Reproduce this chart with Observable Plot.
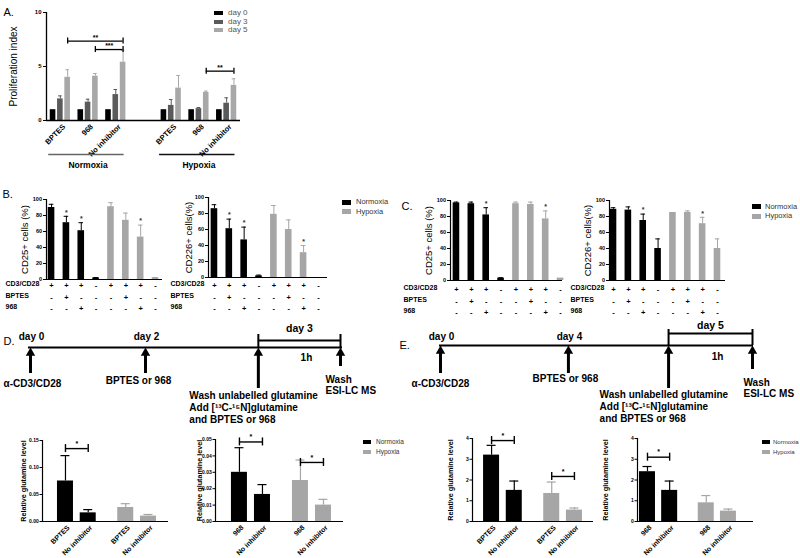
<!DOCTYPE html>
<html>
<head>
<meta charset="utf-8">
<script src="https://cdn.jsdelivr.net/npm/d3@7"></script>
<script src="https://cdn.jsdelivr.net/npm/@observablehq/plot@0.6"></script>
<style>
html,body{margin:0;padding:0;background:#fff;}
#fig{position:relative;width:800px;height:558px;overflow:hidden;background:#fff;font-family:"Liberation Sans",Arial,Helvetica,sans-serif;}
.box{position:absolute;}
.box svg{display:block;max-width:none;overflow:visible;}
</style>
</head>
<body>
<div id="fig"></div>
<script>
// ================= DATA =================
// ---- Panel A : proliferation index ----
const aConditions = ["Normoxia", "Hypoxia"];
const aTreatments = ["BPTES", "968", "No inhibitor"];
const aDays = ["day 0", "day 3", "day 5"];
// order: Normoxia BPTES, 968, No inhibitor, Hypoxia BPTES, 968, No inhibitor
const aDay0Mean = [1, 1, 1, 1, 1, 1];
const aDay3Mean = [2.0, 1.7, 2.4, 1.4, 1.1, 1.6];
const aDay5Mean = [4.0, 4.1, 5.4, 3.0, 2.6, 3.25];
const aDay0Err = [1, 1, 1, 1, 1, 1];
const aDay3Err = [2.28, 1.97, 2.87, 1.94, 1.2, 2.1];
const aDay5Err = [4.7, 4.35, 6.5, 4.17, 2.72, 3.86];
const aSigCondition = [0, 0, 1];
const aSigFrom = [0, 1, 1];
const aSigTo = [2, 2, 2];
const aSigLevel = [7.35, 6.57, 4.57];
const aSigLabel = ["**", "***", "**"];

// ---- Panels B & C : activation markers ----
const cdConditions = ["Normoxia", "Hypoxia"];
const cdRowLabels = ["CD3/CD28", "BPTES", "968"];
const cdCD3 = ["+", "+", "+", "-"];
const cdBPTES = ["-", "+", "-", "-"];
const cd968 = ["-", "-", "+", "-"];
const bCD25Normoxia = [90, 71, 61, 2];
const bCD25NormoxiaErr = [94, 79, 71, 2.5];
const bCD25Hypoxia = [91, 74, 53, 2];
const bCD25HypoxiaErr = [96, 83, 68, 2.5];
const bCD25Stars = [1, 2, 6];
const bCD226Normoxia = [86, 61, 47, 2];
const bCD226NormoxiaErr = [91, 73, 63, 3];
const bCD226Hypoxia = [79, 60, 31, 0];
const bCD226HypoxiaErr = [90, 72, 40, 0];
const bCD226Stars = [1, 2, 6];
const cCD25Normoxia = [97, 96, 82, 3];
const cCD25NormoxiaErr = [98, 98, 91, 3.5];
const cCD25Hypoxia = [96, 95, 77, 3];
const cCD25HypoxiaErr = [98, 98, 87, 3];
const cCD25Stars = [2, 6];
const cCD226Normoxia = [89, 88, 75, 40];
const cCD226NormoxiaErr = [91, 92, 83, 52];
const cCD226Hypoxia = [85, 85, 71, 40];
const cCD226HypoxiaErr = [85, 87, 79, 52];
const cCD226Stars = [2, 6];

// ---- Panels D & E : timelines ----
const tlBottom = ["α-CD3/CD28", "BPTES or 968", "Wash unlabelled glutamine\nAdd [¹³C-¹⁵N]glutamine\nand BPTES or 968", "Wash\nESI-LC MS"];
const dTimelineTop = ["day 0", "day 2", "", ""];
const dTimelineAt = [0, 0.371, 0.735, 1];
const dSpanLabels = ["day 3", "1h"];
const eTimelineTop = ["day 0", "day 4", "", ""];
const eTimelineAt = [0, 0.41, 0.731, 1];
const eSpanLabels = ["day 5", "1h"];

// ---- Panels D & E : relative glutamine level ----
const gluConditions = ["Normoxia", "Normoxia", "Hypoxia", "Hypoxia"];
const gluSlot = [0, 1, 2.65, 3.65];
const dLeftLabels = ["BPTES", "No inhibitor", "BPTES", "No inhibitor"];
const dLeftMean = [0.075, 0.016, 0.026, 0.010];
const dLeftErr = [0.122, 0.022, 0.033, 0.013];
const dLeftSig = [{from: 0, to: 1, level: 0.135, label: "*"}];
const dRightLabels = ["968", "No inhibitor", "968", "No inhibitor"];
const dRightMean = [0.030, 0.0165, 0.025, 0.010];
const dRightErr = [0.045, 0.0225, 0.0375, 0.0135];
const dRightSig = [{from: 0, to: 1, level: 0.0485, label: "*"}, {from: 2, to: 3, level: 0.036, label: "*"}];
const eLeftLabels = ["BPTES", "No inhibitor", "BPTES", "No inhibitor"];
const eLeftMean = [3.2, 1.5, 1.35, 0.55];
const eLeftErr = [3.67, 1.95, 1.9, 0.65];
const eLeftSig = [{from: 0, to: 1, level: 3.9, label: "*"}, {from: 2, to: 3, level: 2.17, label: "*"}];
const eRightLabels = ["968", "No inhibitor", "968", "No inhibitor"];
const eRightMean = [2.4, 1.5, 0.9, 0.5];
const eRightErr = [2.65, 1.95, 1.25, 0.6];
const eRightSig = [{from: 0, to: 1, level: 3.1, label: "*"}];

// ================= STYLE / HELPERS =================
const FONT = '"Liberation Sans", Arial, Helvetica, sans-serif';
const DAY_COLORS = ["#000000", "#5a5a5a", "#a8a8a8"];
const COND_COLORS = {Normoxia: "#000000", Hypoxia: "#a6a6a6"};
const fig = document.getElementById("fig");

function baseStyle(size) {
  return {fontFamily: FONT, fontSize: size, fontWeight: "bold", color: "#000", background: "transparent", overflow: "visible"};
}
function margins(box, frame) {
  return {
    marginLeft: frame.left - box.left,
    marginRight: box.left + box.width - frame.right,
    marginTop: frame.top - box.top,
    marginBottom: box.top + box.height - frame.bottom
  };
}
function place(node, box) {
  const d = document.createElement("div");
  d.className = "box";
  d.style.left = box.left + "px"; d.style.top = box.top + "px";
  d.style.width = box.width + "px"; d.style.height = box.height + "px";
  d.appendChild(node);
  fig.appendChild(d);
}
function legend(items, o) {
  items.forEach((it, i) => {
    const s = document.createElement("div");
    s.style.cssText = `position:absolute;left:${o.left}px;top:${o.top + i * o.step}px;width:${o.sw}px;height:${o.sh}px;background:${it.color}`;
    const t = document.createElement("div");
    t.textContent = it.label;
    t.style.cssText = `position:absolute;left:${o.textLeft}px;top:${o.top + i * o.step + o.sh / 2}px;transform:translateY(-50%);font-size:${o.fontSize}px;line-height:1;color:${o.color};white-space:nowrap;font-family:${FONT}`;
    fig.appendChild(s); fig.appendChild(t);
  });
}

// ================= PANEL A =================
(function panelA() {
  const box = {left: 0, top: 0, width: 252, height: 172};
  const frame = {left: 46, right: 240, top: 12, bottom: 120};
  const xDom = [-0.5, 6.5], yDom = [0, 10];
  const ux = (frame.right - frame.left) / (xDom[1] - xDom[0]);
  const uy = (frame.bottom - frame.top) / (yDom[1] - yDom[0]);
  const dayOff = 7.3 / ux, hw = 2.8 / ux, cap = 1.8 / ux;
  const slot = (c, g) => c * (aTreatments.length + 1) + g;
  const means = [aDay0Mean, aDay3Mean, aDay5Mean], errs = [aDay0Err, aDay3Err, aDay5Err];
  const rows = [], groups = [];
  aConditions.forEach((cond, c) => aTreatments.forEach((tr, g) => {
    const i = c * aTreatments.length + g;
    groups.push({tr, pos: slot(c, g)});
    aDays.forEach((day, d) => rows.push({d, pos: slot(c, g) + (d - 1) * dayOff, mean: means[d][i], err: errs[d][i], color: DAY_COLORS[d]}));
  }));
  const errRows = rows.filter(r => r.err > r.mean);
  const conds = aConditions.map((cond, c) => ({cond, x1: slot(c, 0) - 0.42, x2: slot(c, 2) + 0.3, mid: slot(c, 1), color: c ? "#111" : "#666"}));
  const sig = aSigLabel.map((label, k) => ({label, y: aSigLevel[k],
    x1: slot(aSigCondition[k], aSigFrom[k]) + dayOff, x2: slot(aSigCondition[k], aSigTo[k]) + dayOff}));
  const sigEnds = sig.flatMap(s => [{x: s.x1, y: s.y}, {x: s.x2, y: s.y}]);
  const tickH = 3 / uy;
  const chart = Plot.plot({
    width: box.width, height: box.height, ...margins(box, frame),
    x: {domain: xDom, axis: null},
    y: {domain: yDom, ticks: 2, tickSize: 3, tickPadding: 2, label: null},
    color: {type: "identity"},
    style: baseStyle("6px"),
    marks: [
      Plot.rect(rows, {x1: r => r.pos - hw, x2: r => r.pos + hw, y1: () => 0, y2: "mean", fill: "color"}),
      Plot.ruleX(errRows, {x: "pos", y1: "mean", y2: "err", stroke: "color", strokeWidth: 1}),
      Plot.ruleY(errRows, {y: "err", x1: r => r.pos - cap, x2: r => r.pos + cap, stroke: "color", strokeWidth: 1}),
      Plot.ruleX([xDom[0]], {strokeWidth: 1.3}),
      Plot.ruleY([0], {strokeWidth: 1.3}),
      Plot.ruleY(sig, {y: "y", x1: "x1", x2: "x2", strokeWidth: 1.3}),
      Plot.ruleX(sigEnds, {x: "x", y1: s => s.y - tickH, y2: s => s.y + tickH, strokeWidth: 1.3}),
      Plot.text(sig, {x: s => (s.x1 + s.x2) / 2, y: "y", text: "label", dy: -3.5, fontSize: 7}),
      Plot.text(groups, {x: g => g.pos + 0.1, y: () => 0, text: "tr", rotate: -45, textAnchor: "end", dx: 1, dy: 5, fontSize: 7.5}),
      Plot.ruleY(conds, {y: () => 0, x1: "x1", x2: "x2", dy: 34, stroke: "color", strokeWidth: 1.3}),
      Plot.text(conds, {x: "mid", y: () => 0, text: "cond", dy: 45, fontSize: 8.5}),
      Plot.text(["Proliferation index"], {text: d => d, frameAnchor: "left", textAnchor: "middle", rotate: -90, dx: -33, fontSize: 10, fontWeight: "normal"}),
      Plot.text(["A."], {text: d => d, frameAnchor: "top-left", textAnchor: "start", dx: -43, dy: -4, fontSize: 11, fontWeight: "normal"})
    ]
  });
  place(chart, box);
  legend(aDays.map((label, d) => ({label, color: DAY_COLORS[d]})),
    {left: 214, top: 11, step: 8.5, sw: 9, sh: 4, textLeft: 228, fontSize: 8, color: "#555"});
})();

// ================= PANELS B & C =================
function cdPanel(cfg) {
  const {box, frame, xDom, normMean, normErr, hypMean, hypErr, stars, yLabel, yLabelX, rowLabelX, rowDy, letter} = cfg;
  const ux = (frame.right - frame.left) / (xDom[1] - xDom[0]);
  const hw = 3.3 / ux, cap = 2.3 / ux;
  const signs = [cdCD3, cdBPTES, cd968];
  const rows = [];
  cdConditions.forEach((cond, c) => cdCD3.forEach((_, k) => {
    const pos = c * cdCD3.length + k;
    rows.push({pos, color: COND_COLORS[cond], mean: (c ? hypMean : normMean)[k], err: (c ? hypErr : normErr)[k],
      signs: signs.map(s => s[k]), star: stars.includes(pos)});
  }));
  const errRows = rows.filter(r => r.err > r.mean);
  const marks = [
    Plot.rect(rows, {x1: r => r.pos - hw, x2: r => r.pos + hw, y1: () => 0, y2: "mean", fill: "color"}),
    Plot.ruleX(errRows, {x: "pos", y1: "mean", y2: "err", stroke: "color", strokeWidth: 1}),
    Plot.ruleY(errRows, {y: "err", x1: r => r.pos - cap, x2: r => r.pos + cap, stroke: "color", strokeWidth: 1}),
    Plot.ruleX([xDom[0]], {strokeWidth: 1.2}),
    Plot.ruleY([0], {strokeWidth: 1.2}),
    Plot.text(rows.filter(r => r.star), {x: "pos", y: "err", text: () => "*", dy: -4, fontSize: 7, fill: "#333"}),
    ...cdRowLabels.flatMap((lab, r) => [
      Plot.text(rows, {x: "pos", y: () => 0, text: d => d.signs[r], dy: rowDy[r], fontSize: 7.5}),
      Plot.text([lab], {text: d => d, frameAnchor: "bottom-left", textAnchor: "start", dx: rowLabelX - frame.left, dy: rowDy[r], fontSize: 7})
    ]),
    Plot.text([yLabel], {text: d => d, frameAnchor: "left", textAnchor: "middle", rotate: -90, dx: yLabelX - frame.left, fontSize: 9.5, fontWeight: "normal"})
  ];
  if (letter) marks.push(Plot.text([letter.text], {text: d => d, frameAnchor: "top-left", textAnchor: "start",
    dx: letter.x - frame.left, dy: letter.y - frame.top, fontSize: 11, fontWeight: "normal"}));
  const chart = Plot.plot({
    width: box.width, height: box.height, ...margins(box, frame),
    x: {domain: xDom, axis: null},
    y: {domain: [0, 100], ticks: 5, tickSize: 3, tickPadding: 1.5, label: null},
    color: {type: "identity"},
    style: baseStyle("5.5px"),
    marks
  });
  place(chart, box);
}

cdPanel({box: {left: 0, top: 180, width: 170, height: 135}, frame: {left: 46, right: 162, top: 199, bottom: 279},
  xDom: [-0.34, 7.47], normMean: bCD25Normoxia, normErr: bCD25NormoxiaErr, hypMean: bCD25Hypoxia, hypErr: bCD25HypoxiaErr,
  stars: bCD25Stars, yLabel: "CD25+ cells (%)", yLabelX: 24, rowLabelX: 5, rowDy: [6, 18, 29], letter: {text: "B.", x: 2, y: 190}});
cdPanel({box: {left: 168, top: 180, width: 170, height: 135}, frame: {left: 208, right: 327, top: 197, bottom: 277},
  xDom: [-0.40, 7.61], normMean: bCD226Normoxia, normErr: bCD226NormoxiaErr, hypMean: bCD226Hypoxia, hypErr: bCD226HypoxiaErr,
  stars: bCD226Stars, yLabel: "CD226+ cells(%)", yLabelX: 188, rowLabelX: 170, rowDy: [8, 20, 31]});
cdPanel({box: {left: 400, top: 180, width: 170, height: 140}, frame: {left: 450, right: 562, top: 200, bottom: 280},
  xDom: [-0.40, 7.13], normMean: cCD25Normoxia, normErr: cCD25NormoxiaErr, hypMean: cCD25Hypoxia, hypErr: cCD25HypoxiaErr,
  stars: cCD25Stars, yLabel: "CD25+ cells (%)", yLabelX: 428, rowLabelX: 403, rowDy: [9, 21, 32], letter: {text: "C.", x: 401, y: 202}});
cdPanel({box: {left: 568, top: 180, width: 165, height: 140}, frame: {left: 609, right: 725, top: 200, bottom: 280},
  xDom: [-0.27, 7.54], normMean: cCD226Normoxia, normErr: cCD226NormoxiaErr, hypMean: cCD226Hypoxia, hypErr: cCD226HypoxiaErr,
  stars: cCD226Stars, yLabel: "CD226+ cells(%)", yLabelX: 587, rowLabelX: 570, rowDy: [9, 21, 32]});
legend(cdConditions.map(c => ({label: c, color: COND_COLORS[c]})),
  {left: 342, top: 199.5, step: 9.5, sw: 9, sh: 5, textLeft: 356, fontSize: 7.5, color: "#333"});
legend(cdConditions.map(c => ({label: c, color: COND_COLORS[c]})),
  {left: 752, top: 204, step: 9.5, sw: 9, sh: 5, textLeft: 765, fontSize: 7.5, color: "#333"});

// ================= TIMELINES =================
function timelinePanel(cfg) {
  const {box, line, arrowX, at, top, spanLabels, L, letter} = cfg;
  const u = arrowX[1] - arrowX[0];
  const xDom = [(line.x1 - arrowX[0]) / u, 1 + (line.x2 - arrowX[1]) / u];
  const r = 3.5, k = Math.sqrt(Math.PI * r * r / (3 * Math.sqrt(3)));
  const ev = at.map((t, i) => ({t, top: top[i], bottom: tlBottom[i], shaftEnd: L.shaftEnd[i], by: L.bottomY[i],
    anchor: L.anchor[i], dx: L.dx[i], lh: L.lineHeight[i], multi: tlBottom[i].includes("\n")}));
  const span = {x1: at[2], x2: at[3], mid: (at[2] + at[3]) / 2};
  const marks = [
    Plot.ruleY([line.y], {strokeWidth: 2}),
    Plot.ruleX(ev, {x: "t", y1: () => line.y + 2 * k, y2: "shaftEnd", strokeWidth: 3}),
    Plot.dot(ev, {x: "t", y: () => line.y + 2 * k, symbol: "triangle", r, fill: "#000"}),
    Plot.text(ev.filter(e => e.top), {x: "t", y: () => L.topY, text: "top", dx: 1}),
    ...ev.map(e => Plot.text([e], {x: "t", y: e.multi ? (d => d.by - 3.6) : "by", text: "bottom", textAnchor: e.anchor, dx: e.dx,
      lineAnchor: e.multi ? "top" : "middle", lineHeight: e.lh})),
    Plot.ruleY([span], {x1: "x1", x2: "x2", y: () => L.spanY, strokeWidth: 2}),
    Plot.ruleX([span.x1, span.x2], {x: d => d, y1: () => L.spanY - L.spanTick, y2: () => line.y, strokeWidth: 2}),
    Plot.text([span], {x: "mid", y: () => L.spanTextY, text: () => spanLabels[0], fontSize: 10.5}),
    Plot.text([span], {x: "mid", y: () => L.spanBelowY, text: () => spanLabels[1], dx: 7}),
    Plot.text([letter.text], {text: d => d, frameAnchor: "top-left", textAnchor: "start", dx: letter.x - line.x1,
      dy: letter.y - box.top, fontSize: 11, fontWeight: "normal"})
  ];
  const chart = Plot.plot({
    width: box.width, height: box.height,
    marginLeft: line.x1 - box.left, marginRight: box.left + box.width - line.x2, marginTop: 0, marginBottom: 0,
    x: {domain: xDom, axis: null},
    y: {domain: [box.top, box.top + box.height], range: [0, box.height], axis: null},
    style: baseStyle("10px"),
    marks
  });
  place(chart, box);
}

timelinePanel({box: {left: 0, top: 315, width: 400, height: 112}, line: {x1: 28, x2: 342, y: 347}, arrowX: [30, 340],
  at: dTimelineAt, top: dTimelineTop, spanLabels: dSpanLabels, letter: {text: "D.", x: 3, y: 337},
  L: {topY: 336, shaftEnd: [373, 373, 388, 366], bottomY: [383, 380, 394, 378], anchor: ["middle", "middle", "start", "start"],
      dx: [2, -7, -69, -15], lineHeight: [1, 1, 1.2, 1.1], spanY: 340, spanTick: 6, spanTextY: 328, spanBelowY: 357}});
timelinePanel({box: {left: 398, top: 315, width: 402, height: 112}, line: {x1: 439, x2: 753, y: 345}, arrowX: [440, 752],
  at: eTimelineAt, top: eTimelineTop, spanLabels: eSpanLabels, letter: {text: "E.", x: 399, y: 341},
  L: {topY: 336, shaftEnd: [373, 373, 388, 369], bottomY: [383, 378, 393, 381], anchor: ["middle", "middle", "start", "start"],
      dx: [0, -3, -69, -9], lineHeight: [1, 1, 1.2, 1.1], spanY: 333, spanTick: 4, spanTextY: 325, spanBelowY: 356}});

// ================= GLUTAMINE BAR CHARTS =================
function gluPanel(cfg) {
  const {box, frame, xDom, yDom, ticks, fmt, labels, mean, err, sig, yLabelX} = cfg;
  const ux = (frame.right - frame.left) / (xDom[1] - xDom[0]);
  const uy = (frame.bottom - frame.top) / (yDom[1] - yDom[0]);
  const hw = 8 / ux, cap = 4.5 / ux, tickH = 4 / uy;
  const rows = gluSlot.map((pos, i) => ({pos, label: labels[i], mean: mean[i], err: err[i], color: COND_COLORS[gluConditions[i]]}));
  const errRows = rows.filter(r => r.err > r.mean);
  const s = sig.map(q => ({x1: gluSlot[q.from], x2: gluSlot[q.to], y: q.level, label: q.label}));
  const sEnds = s.flatMap(q => [{x: q.x1, y: q.y}, {x: q.x2, y: q.y}]);
  const chart = Plot.plot({
    width: box.width, height: box.height, ...margins(box, frame),
    x: {domain: xDom, axis: null},
    y: {domain: yDom, ticks, tickFormat: fmt, tickSize: 2.5, tickPadding: 1.2, label: null},
    color: {type: "identity"},
    style: baseStyle("5px"),
    marks: [
      Plot.rect(rows, {x1: r => r.pos - hw, x2: r => r.pos + hw, y1: () => 0, y2: "mean", fill: "color"}),
      Plot.ruleX(errRows, {x: "pos", y1: "mean", y2: "err", stroke: "color", strokeWidth: 1.2}),
      Plot.ruleY(errRows, {y: "err", x1: r => r.pos - cap, x2: r => r.pos + cap, stroke: "color", strokeWidth: 1.2}),
      Plot.ruleX([xDom[0]], {strokeWidth: 1.2}),
      Plot.ruleY([0], {strokeWidth: 1.2}),
      Plot.ruleY(s, {y: "y", x1: "x1", x2: "x2", strokeWidth: 1.4}),
      Plot.ruleX(sEnds, {x: "x", y1: q => q.y - tickH, y2: q => q.y + tickH, strokeWidth: 1.4}),
      Plot.text(s, {x: q => (q.x1 + q.x2) / 2, y: "y", text: "label", dy: -5, fontSize: 7}),
      Plot.text(rows, {x: "pos", y: () => 0, text: "label", rotate: -45, textAnchor: "end", dx: 3, dy: 5, fontSize: 7}),
      Plot.text(["Relative glutamine level"], {text: d => d, frameAnchor: "left", textAnchor: "middle", rotate: -90, dx: yLabelX - frame.left, fontSize: 7.2})
    ]
  });
  place(chart, box);
}
const f2 = d3.format(".2f");
gluPanel({box: {left: 0, top: 425, width: 178, height: 133}, frame: {left: 42, right: 168, top: 440, bottom: 521},
  xDom: [-1.01, 4.53], yDom: [0, 0.15], ticks: 3, fmt: f2, labels: dLeftLabels, mean: dLeftMean, err: dLeftErr, sig: dLeftSig, yLabelX: 23});
gluPanel({box: {left: 180, top: 425, width: 170, height: 133}, frame: {left: 215, right: 343, top: 439, bottom: 521},
  xDom: [-1.04, 4.52], yDom: [0, 0.05], ticks: 5, fmt: f2, labels: dRightLabels, mean: dRightMean, err: dRightErr, sig: dRightSig, yLabelX: 199});
gluPanel({box: {left: 420, top: 425, width: 180, height: 133}, frame: {left: 472, right: 593, top: 438, bottom: 521},
  xDom: [-0.84, 4.49], yDom: [0, 4], ticks: 4, fmt: d3.format("d"), labels: eLeftLabels, mean: eLeftMean, err: eLeftErr, sig: eLeftSig, yLabelX: 450});
gluPanel({box: {left: 590, top: 425, width: 170, height: 133}, frame: {left: 637, right: 753, top: 438, bottom: 521},
  xDom: [-0.45, 4.78], yDom: [0, 4], ticks: 4, fmt: d3.format("d"), labels: eRightLabels, mean: eRightMean, err: eRightErr, sig: eRightSig, yLabelX: 605});
legend(cdConditions.map(c => ({label: c, color: COND_COLORS[c]})),
  {left: 363, top: 440, step: 10, sw: 8, sh: 4, textLeft: 376, fontSize: 6.5, color: "#333"});
legend(cdConditions.map(c => ({label: c, color: COND_COLORS[c]})),
  {left: 762, top: 440, step: 10, sw: 8, sh: 4, textLeft: 773, fontSize: 6, color: "#333"});
</script>
</body>
</html>
